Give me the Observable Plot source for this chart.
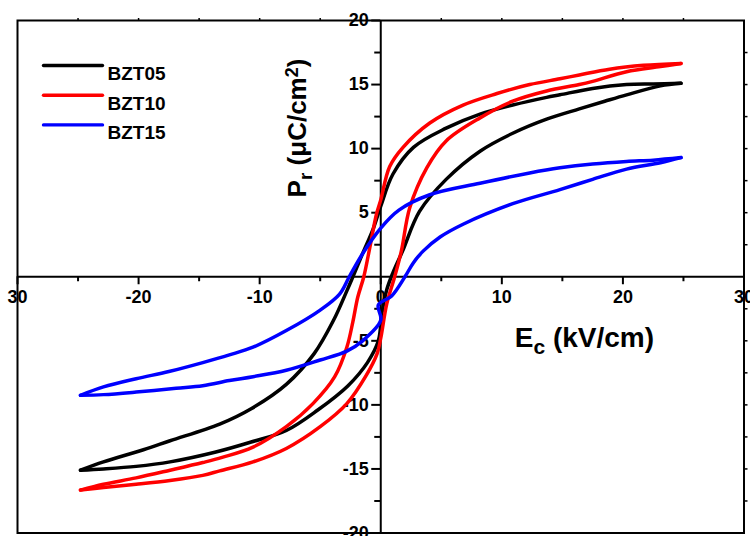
<!DOCTYPE html>
<html>
<head>
<meta charset="utf-8">
<script src="https://cdn.jsdelivr.net/npm/d3@7"></script>
<script src="https://cdn.jsdelivr.net/npm/@observablehq/plot@0.6"></script>
<style>
  body { margin: 0; background: #fff; }
  #chart { width: 750px; height: 536px; overflow: hidden; }
</style>
</head>
<body>
<div id="chart"></div>
<script>
// ---------------- data ----------------
const seriesNames = ["BZT05", "BZT10", "BZT15"];
const seriesColors = ["#000000", "#ff0000", "#0000ff"];

// [E (kV/cm), P (µC/cm²)] along each branch of the loop
const bzt05Desc = [[24.8,15.1],[22.5,15.05],[20.3,15.0],[17.5,14.7],[14.8,14.2],[13.7,14.0],[10.9,13.4],[8.2,12.7],[5.4,11.6],[2.7,10.1],[1.0,8.0],[0,5.5],[-0.6,3.8],[-1.5,1.8],[-2.3,0],[-2.8,-1.1],[-3.9,-3.4],[-5.5,-6.0],[-7.8,-8.4],[-10.7,-10.3],[-13.3,-11.5],[-17.4,-12.8],[-19.6,-13.5],[-22.9,-14.45],[-24.8,-15.1]];
const bzt05Asc = [[-24.8,-15.1],[-22.9,-15.0],[-20.2,-14.8],[-17.4,-14.45],[-13.7,-13.7],[-10.7,-12.9],[-7.8,-12.0],[-5.2,-10.4],[-2.7,-8.5],[-1.1,-6.7],[-0.2,-5.0],[0.1,-2.8],[0.5,-1.0],[1.0,0.3],[1.8,2.0],[3.2,5.1],[5.4,7.6],[8.2,9.8],[10.9,11.2],[13.7,12.3],[16.4,13.1],[18.5,13.7],[20.3,14.2],[23.1,14.9],[24.8,15.1]];

const bzt10Desc = [[24.8,16.65],[21.7,16.5],[18.9,16.2],[16.4,15.75],[14.8,15.45],[12.3,15.0],[9.6,14.3],[6.8,13.4],[4.05,12.0],[1.84,10.1],[0.74,8.6],[0,6.0],[-0.35,4.9],[-0.9,2.3],[-1.4,0],[-1.9,-1.6],[-2.3,-3.5],[-2.8,-5.5],[-3.8,-7.8],[-5.6,-9.9],[-7.8,-11.7],[-10.55,-13.3],[-13.1,-14.1],[-14.7,-14.5],[-17.4,-15.1],[-20.2,-15.7],[-22.9,-16.2],[-24.8,-16.65]];
const bzt10Asc = [[-24.8,-16.65],[-22.9,-16.45],[-20.2,-16.2],[-17.4,-15.9],[-14.7,-15.5],[-13.3,-15.15],[-10.55,-14.45],[-7.8,-13.4],[-5.0,-11.7],[-2.8,-9.9],[-1.2,-7.7],[-0.3,-6.0],[0,-4.8],[0.5,-2.1],[1.15,0],[1.7,2.0],[2.4,5.4],[3.8,8.5],[5.4,10.6],[8.2,12.4],[10.9,13.7],[13.7,14.5],[16.4,15.0],[17.5,15.25],[20.3,16.0],[23.1,16.4],[24.8,16.65]];

const bzt15Desc = [[24.8,9.3],[22.5,9.1],[20.3,9.0],[17.5,8.8],[14.8,8.5],[12.3,8.1],[8.2,7.3],[4.05,6.4],[1.5,5.2],[0,3.8],[-1.5,1.8],[-2.6,0],[-3.4,-1.35],[-5.0,-2.6],[-7.8,-4.2],[-10.55,-5.5],[-12.5,-6.1],[-14.7,-6.7],[-17.5,-7.4],[-20.2,-7.96],[-22.9,-8.6],[-24.8,-9.25]];
const bzt15Asc = [[-24.8,-9.25],[-22.9,-9.2],[-20.2,-9.0],[-16.9,-8.7],[-14.7,-8.5],[-12.5,-8.1],[-10.55,-7.8],[-7.8,-7.3],[-5.0,-6.5],[-2.8,-5.8],[-1.5,-5.0],[0,-3.4],[-0.2,-2.2],[0.9,-1.5],[2.0,0],[2.7,1.1],[3.5,2.0],[4.9,3.1],[6.8,4.1],[10.9,5.7],[14.8,6.8],[17.5,7.6],[20.3,8.4],[23.1,8.9],[24.8,9.3]];

const seriesBranches = {
  BZT05: [bzt05Asc, bzt05Desc],
  BZT10: [bzt10Asc, bzt10Desc],
  BZT15: [bzt15Asc, bzt15Desc]
};

// ticks
const xTicks = [-30, -20, -10, 0, 10, 20, 30];
const xTickLabels = ["30", "-20", "-10", "0", "10", "20", "30"];
const xMinorTicks = [-25, -15, -5, 5, 15, 25];
const yTicks = [-20, -15, -10, -5, 5, 10, 15, 20];
const yTickLabels = ["-20", "-15", "-10", "-5", "5", "10", "15", "20"];
const yMinorTicks = [-17.5, -12.5, -7.5, -2.5, 2.5, 7.5, 12.5, 17.5];
const frameXTicks = [-25, -20, -15, -10, -5, 5, 10, 15, 20, 25];
const frameYTicks = [-17.5, -15, -12.5, -10, -7.5, -5, -2.5, 2.5, 5, 7.5, 10, 12.5, 15, 17.5];

const xTitle = "Ec (kV/cm)";
const yTitle = "Pr (μC/cm2)";

// ---------------- build ----------------
const rows = [];
for (const name of seriesNames) {
  seriesBranches[name].forEach((branch, b) => {
    for (const [E, P] of branch) rows.push({series: name, key: name + "-" + b, E, P});
  });
}

const W = 750, H = 536, mt = 20, mr = 6.5, mb = 3.5, ml = 17;
const innerW = W - ml - mr, innerH = H - mt - mb;
const font = "'Liberation Sans', Arial, Helvetica, sans-serif";
const hLine = {draw(context, l) { context.moveTo(0, 0); context.lineTo(l, 0); }};

const marks = [
  Plot.ruleX([0], {stroke: "black", strokeWidth: 2}),
  Plot.ruleY([0], {stroke: "black", strokeWidth: 2}),
  Plot.axisX({anchor: "bottom", ticks: xTicks, tickSize: 8, tickPadding: 5, strokeWidth: 2,
    dy: -innerH / 2, tickFormat: d => xTickLabels[xTicks.indexOf(d)],
    fontSize: 18, fontWeight: "bold", fill: "black", label: null}),
  Plot.axisX({anchor: "bottom", ticks: xMinorTicks, tickSize: 5, strokeWidth: 2,
    dy: -innerH / 2, fill: "none", label: null}),
  Plot.axisY({anchor: "left", ticks: yTicks, tickSize: 9, tickPadding: 3, strokeWidth: 2,
    dx: innerW / 2, tickFormat: d => yTickLabels[yTicks.indexOf(d)],
    fontSize: 18, fontWeight: "bold", fill: "black", label: null}),
  Plot.axisY({anchor: "left", ticks: yMinorTicks, tickSize: 6, strokeWidth: 2,
    dx: innerW / 2, fill: "none", label: null}),
  Plot.axisX({anchor: "top", ticks: frameXTicks, tickSize: 3, strokeWidth: 1.5, fill: "none", label: null}),
  Plot.axisY({anchor: "right", ticks: frameYTicks, tickSize: 3, strokeWidth: 1.5, fill: "none", label: null}),
  Plot.line(rows, {x: "E", y: "P", z: "key", stroke: "series", strokeWidth: 3.5,
    curve: "catmull-rom", strokeLinejoin: "round", strokeLinecap: "round"}),
  Plot.text([xTitle], {frameAnchor: "middle", dx: 134, dy: 61.5, textAnchor: "start",
    fontSize: 28, fontWeight: "bold", fill: "black"}),
  Plot.text([yTitle], {frameAnchor: "middle", dx: -83.5, dy: -148.75, rotate: -90, textAnchor: "middle",
    fontSize: 26, fontWeight: "bold", fill: "black"}),
  Plot.frame({stroke: "black", strokeWidth: 2})
];

seriesNames.forEach((name, i) => {
  marks.push(Plot.vector([name], {frameAnchor: "top-left", dx: 26, dy: 45 + i * 29.7, length: 59,
    anchor: "start", shape: hLine, stroke: seriesColors[i], strokeWidth: 3.4, strokeLinecap: "round"}));
  marks.push(Plot.text([name], {frameAnchor: "top-left", dx: 90, dy: 46 + i * 29.7, textAnchor: "start",
    fontSize: 19, fontWeight: "bold", fill: "black"}));
});

const chart = Plot.plot({
  width: W, height: H,
  marginTop: mt, marginRight: mr, marginBottom: mb, marginLeft: ml,
  x: {domain: [-30, 30], axis: null},
  y: {domain: [-20, 20], axis: null},
  color: {domain: seriesNames, range: seriesColors},
  style: {fontFamily: font, background: "white", color: "black"},
  marks
});

// rich text (sub/superscripts) for the axis titles
function setRich(plain, parts) {
  const t = Array.from(chart.querySelectorAll("text")).find(el => el.textContent === plain);
  if (!t) return;
  while (t.firstChild) t.removeChild(t.firstChild);
  for (const [txt, size, dy] of parts) {
    const ts = document.createElementNS("http://www.w3.org/2000/svg", "tspan");
    ts.textContent = txt;
    if (size) ts.setAttribute("font-size", size);
    if (dy) ts.setAttribute("dy", dy);
    t.appendChild(ts);
  }
}
setRich(xTitle, [["E"], ["c", "21", "7"], [" (kV/cm)", null, "-7"]]);
setRich(yTitle, [["P"], ["r", "19", "6"], [" (μC/cm", null, "-6"], ["2", "18", "-8"], [")", null, "8"]]);

document.getElementById("chart").appendChild(chart);
</script>
</body>
</html>
